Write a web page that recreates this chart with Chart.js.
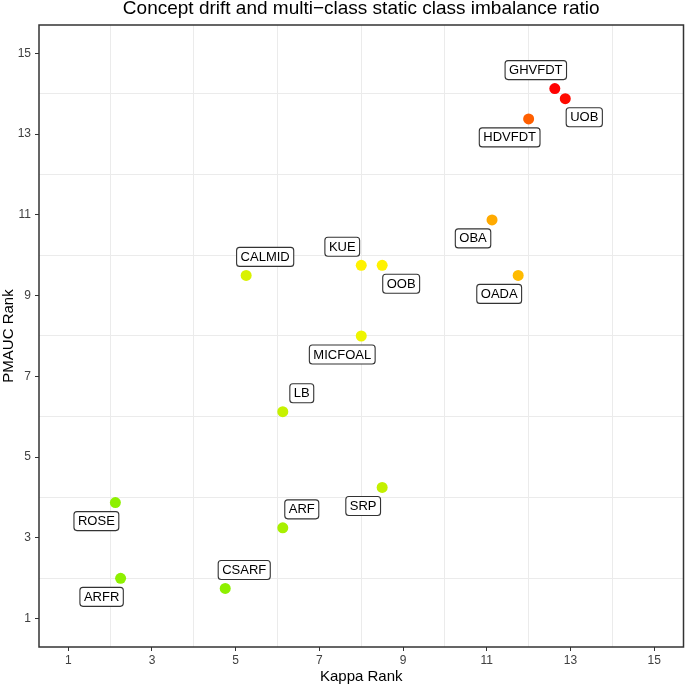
<!DOCTYPE html>
<html>
<head>
<meta charset="utf-8">
<script src="https://cdn.jsdelivr.net/npm/chart.js@4.4.1/dist/chart.umd.min.js"></script>
<style>
  html, body { margin: 0; padding: 0; background: #fff; overflow: hidden; }
</style>
</head>
<body>
<canvas id="chart" width="689" height="684"></canvas>
<script>
// data
const methods   = ['GHVFDT', 'UOB', 'HDVFDT', 'OBA', 'OADA', 'KUE', 'OOB', 'MICFOAL', 'CALMID', 'LB', 'SRP', 'ARF', 'ROSE', 'CSARF', 'ARFR'];
const kappaRank = [12.625, 12.875, 12.0, 11.125, 11.75, 8.0, 8.5, 8.0, 5.25, 6.125, 8.5, 6.125, 2.125, 4.75, 2.25];
const pmaucRank = [14.125, 13.875, 13.375, 10.875, 9.5, 9.75, 9.75, 8.0, 9.5, 6.125, 4.25, 3.25, 3.875, 1.75, 2.0];
const tickValues = [1, 3, 5, 7, 9, 11, 13, 15];
const gridValues = [2, 4, 6, 8, 10, 12, 14];

// styling
const pointColors = ['#FF0000', '#FF0A00', '#FF5F00', '#FFAA00', '#FFBB00', '#FFF200', '#FFF200', '#EEF500', '#D9F200',
                     '#C6F200', '#C3F000', '#A8F000', '#8EF000', '#8EF000', '#8EF000'];
// label side relative to point: [horizontal, vertical], -1 = left/up
const labelSide = [[-1, -1], [1, 1], [-1, 1], [-1, 1], [-1, 1], [-1, -1], [1, 1], [-1, 1], [1, -1],
                   [1, -1], [-1, 1], [1, -1], [-1, 1], [1, -1], [-1, 1]];

const FONT = '"Liberation Sans", Arial, Helvetica, sans-serif';
const allTicks = [...tickValues, ...gridValues].sort((a, b) => a - b);

function isLabelled(v) { return tickValues.includes(v); }

function axisOptions(title, isX) {
  return {
    type: 'linear',
    min: 0.3,
    max: 15.7,
    afterBuildTicks: s => { s.ticks = allTicks.map(v => ({ value: v })); },
    afterFit: s => {
      if (isX) { s.height = 37; s.paddingLeft = 0; s.paddingRight = 0; }
      else { s.width = 39; s.paddingTop = 0; s.paddingBottom = 0; }
    },
    ticks: {
      autoSkip: false,
      maxRotation: 0,
      padding: isX ? 2 : 4,
      color: '#404040',
      font: { family: FONT, size: 12 },
      callback: v => isLabelled(v) ? String(v) : ''
    },
    grid: {
      color: c => (c.tick && !isLabelled(c.tick.value)) ? '#EBEBEB' : 'rgba(0,0,0,0)',
      tickColor: c => (c.tick && isLabelled(c.tick.value)) ? '#333333' : 'rgba(0,0,0,0)',
      lineWidth: 1,
      tickLength: 4
    },
    border: { display: false },
    title: {
      display: true,
      text: title,
      color: '#000',
      padding: 0,
      font: { family: FONT, size: 15, lineHeight: isX ? 1.0 : 1.15 }
    }
  };
}

const panelPlugin = {
  id: 'panel',
  afterDatasetsDraw(chart) {
    const ctx = chart.ctx;
    const pts = chart.getDatasetMeta(0).data;
    ctx.save();
    ctx.font = '13px ' + FONT;
    ctx.textAlign = 'center';
    ctx.textBaseline = 'middle';
    methods.forEach((name, i) => {
      const cx = pts[i].x + labelSide[i][0] * 19;
      const cy = pts[i].y + labelSide[i][1] * 18.5;
      const w = ctx.measureText(name).width + 8;
      const h = 19;
      ctx.beginPath();
      ctx.roundRect(cx - w / 2, cy - h / 2, w, h, 3);
      ctx.fillStyle = '#fff';
      ctx.fill();
      ctx.lineWidth = 1.1;
      ctx.strokeStyle = '#333';
      ctx.stroke();
      ctx.fillStyle = '#000';
      ctx.fillText(name, cx, cy + 0.5);
    });
    ctx.restore();
  },
  afterDraw(chart) {
    const { ctx, chartArea: a } = chart;
    ctx.save();
    ctx.strokeStyle = '#333';
    ctx.lineWidth = 1.5;
    ctx.strokeRect(a.left, a.top, a.right - a.left, a.bottom - a.top);
    ctx.fillStyle = '#000';
    ctx.font = '19px ' + FONT;
    ctx.textAlign = 'center';
    ctx.textBaseline = 'middle';
    ctx.fillText('Concept drift and multi\u2212class static class imbalance ratio', (a.left + a.right) / 2, 9);
    ctx.restore();
  }
};

new Chart(document.getElementById('chart'), {
  type: 'scatter',
  data: {
    datasets: [{
      data: methods.map((m, i) => ({ x: kappaRank[i], y: pmaucRank[i] })),
      backgroundColor: pointColors,
      borderWidth: 0,
      pointRadius: 5.5
    }]
  },
  options: {
    responsive: false,
    animation: false,
    layout: { padding: { top: 25, right: 1, bottom: 0, left: 0 } },
    plugins: {
      legend: { display: false },
      tooltip: { enabled: false }
    },
    scales: {
      x: axisOptions('Kappa Rank', true),
      y: axisOptions('PMAUC Rank', false)
    }
  },
  plugins: [panelPlugin]
});
</script>
</body>
</html>
